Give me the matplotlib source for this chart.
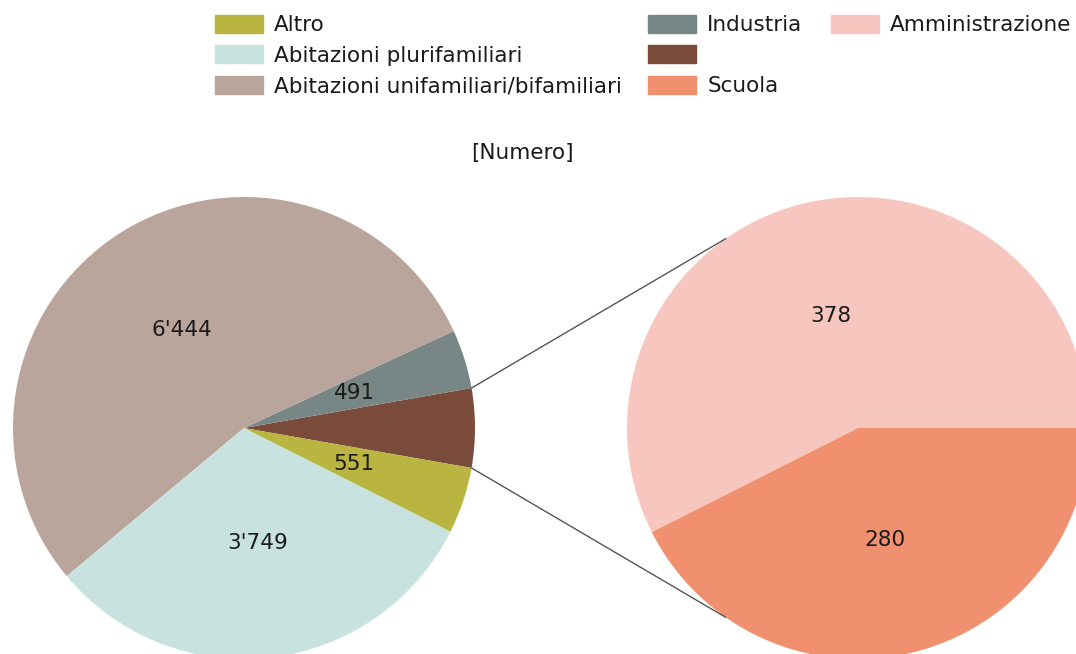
import matplotlib.pyplot as plt
import matplotlib.patches as mpatches
import numpy as np

plt.rcParams['font.family'] = ['DejaVu Sans']

# dati: torta principale (la prima fetta viene dettagliata a destra)
main_labels = ['', 'Industria', 'Abitazioni unifamiliari/bifamiliari',
               'Abitazioni plurifamiliari', 'Altro']
main_values = [658, 491, 6444, 3749, 551]
main_colors = ['#7a4a3a', '#788785', '#b9a59c', '#c8e3df', '#b9b540']

# dettaglio della fetta marrone
sub_labels = ['Amministrazione', 'Scuola']
sub_values = [378, 280]
sub_colors = ['#f7c6be', '#f0906e']

FS = 15.5
TXT = '#1a1a1a'

def fmt(v):
    return f"{v:,}".replace(",", "'")

fig = plt.figure(figsize=(10.76, 6.54), dpi=100)
ax = fig.add_axes([0, 0, 1, 1])

R = 231
c1 = (244, 226)
c2 = (858, 226)
start = -main_values[0] / sum(main_values) * 360 / 2

w1, t1 = ax.pie(main_values, colors=main_colors, startangle=start,
                center=c1, radius=R, counterclock=True,
                labels=[fmt(v) if lab else '' for v, lab in zip(main_values, main_labels)],
                labeldistance=0.5, textprops=dict(fontsize=FS, color=TXT))
w2, t2 = ax.pie(sub_values, colors=sub_colors, startangle=0,
                center=c2, radius=R, counterclock=True,
                labels=[fmt(v) for v in sub_values],
                labeldistance=0.5, textprops=dict(fontsize=FS, color=TXT))
for t in list(t1) + list(t2):
    t.set_horizontalalignment('center')
    t.set_verticalalignment('center')

# linee di collegamento
for a1, a2 in [(-start, 125), (start, -125)]:
    x1 = c1[0] + R * np.cos(np.radians(a1))
    y1 = c1[1] + R * np.sin(np.radians(a1))
    x2 = c2[0] + R * np.cos(np.radians(a2))
    y2 = c2[1] + R * np.sin(np.radians(a2))
    ax.plot([x1, x2], [y1, y2], color='#555555', linewidth=1)

ax.set_xlim(0, 1076)
ax.set_ylim(0, 654)
ax.set_aspect('equal')
ax.axis('off')

ax.text(522, 654 - 153, '[Numero]', ha='center', va='center', fontsize=FS, color=TXT)

# legenda: tre colonne
columns = [
    ([main_colors[4], main_colors[3], main_colors[2]],
     [main_labels[4], main_labels[3], main_labels[2]], 215),
    ([main_colors[1], main_colors[0], sub_colors[1]],
     [main_labels[1], main_labels[0], sub_labels[1]], 648),
    ([sub_colors[0]], [sub_labels[0]], 831),
]
for cols, labs, x in columns:
    handles = [mpatches.Patch(color=c) for c in cols]
    leg = fig.legend(handles, labs, loc='upper left',
                     bbox_to_anchor=(x / 1076, 1 - 15 / 654), frameon=False,
                     fontsize=FS, handlelength=2.25, handleheight=0.9,
                     handletextpad=0.5, labelspacing=0.47,
                     borderpad=0, borderaxespad=0, labelcolor=TXT)

fig.savefig('out.png', dpi=100)
